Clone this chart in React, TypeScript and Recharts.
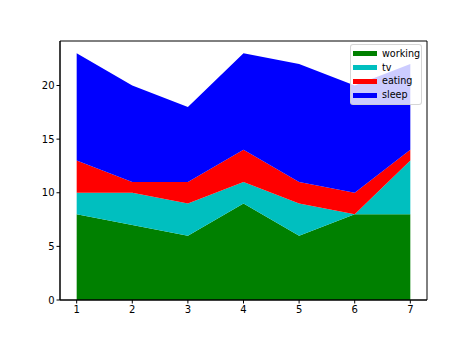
import React from 'react';
import { AreaChart, Area, XAxis, YAxis, ReferenceArea } from 'recharts';

const days = [1, 2, 3, 4, 5, 6, 7];
const working = [8, 7, 6, 9, 6, 8, 8];
const tv = [2, 3, 3, 2, 3, 0, 5];
const eating = [3, 1, 2, 3, 2, 2, 1];
const sleep = [10, 9, 7, 9, 11, 10, 8];
const xTicks = [1, 2, 3, 4, 5, 6, 7];
const yTicks = [0, 5, 10, 15, 20];

const series = [
  { key: 'working', color: '#008000' },
  { key: 'tv', color: '#00bfbf' },
  { key: 'eating', color: '#ff0000' },
  { key: 'sleep', color: '#0000ff' },
];

const data = days.map((d, i) => ({
  day: d,
  working: working[i],
  tv: tv[i],
  eating: eating[i],
  sleep: sleep[i],
}));

const font = 'DejaVu Sans, sans-serif';

const LegendBox = () => (
  <div
    style={{
      position: 'absolute',
      left: 350,
      top: 44,
      width: 72,
      height: 61,
      boxSizing: 'border-box',
      background: 'rgba(255,255,255,0.8)',
      border: '1px solid rgba(204,204,204,0.8)',
      borderRadius: 3,
      padding: '2px 0 0 2px',
      fontFamily: font,
      fontSize: 9.6,
      color: '#000',
    }}
  >
    {series.map((s) => (
      <div key={s.key} style={{ display: 'flex', alignItems: 'center', height: 13.8 }}>
        <div style={{ width: 24, height: 5, background: s.color, marginRight: 5 }} />
        <span style={{ lineHeight: '12px' }}>{s.key}</span>
      </div>
    ))}
  </div>
);

export default function App() {
  return (
    <div style={{ position: 'absolute', left: 0, top: 0, width: 474, height: 338, background: '#fff' }}>
      <AreaChart
        width={474}
        height={338}
        data={data}
        margin={{ top: 41, right: 47, left: 0, bottom: 0 }}
      >
        <XAxis
          dataKey="day"
          type="number"
          domain={[0.7, 7.3]}
          ticks={xTicks}
          allowDataOverflow
          height={38}
          stroke="#000"
          tickLine={{ stroke: '#000' }}
          tickSize={3.5}
          tick={{ fill: '#000', fontSize: 10, fontFamily: font }}
        />
        <YAxis
          type="number"
          domain={[0, 24.15]}
          ticks={yTicks}
          allowDataOverflow
          width={60}
          stroke="#000"
          tickLine={{ stroke: '#000' }}
          tickSize={3.5}
          tick={{ fill: '#000', fontSize: 10, fontFamily: font }}
        />
        {series.map((s) => (
          <Area
            key={s.key}
            type="linear"
            dataKey={s.key}
            stackId="1"
            stroke="none"
            fill={s.color}
            fillOpacity={1}
            isAnimationActive={false}
          />
        ))}
        <ReferenceArea
          x1={0.7}
          x2={7.3}
          y1={0}
          y2={24.15}
          fill="none"
          fillOpacity={0}
          stroke="#000"
          strokeWidth={1}
          ifOverflow="visible"
        />
      </AreaChart>
      <LegendBox />
    </div>
  );
}
